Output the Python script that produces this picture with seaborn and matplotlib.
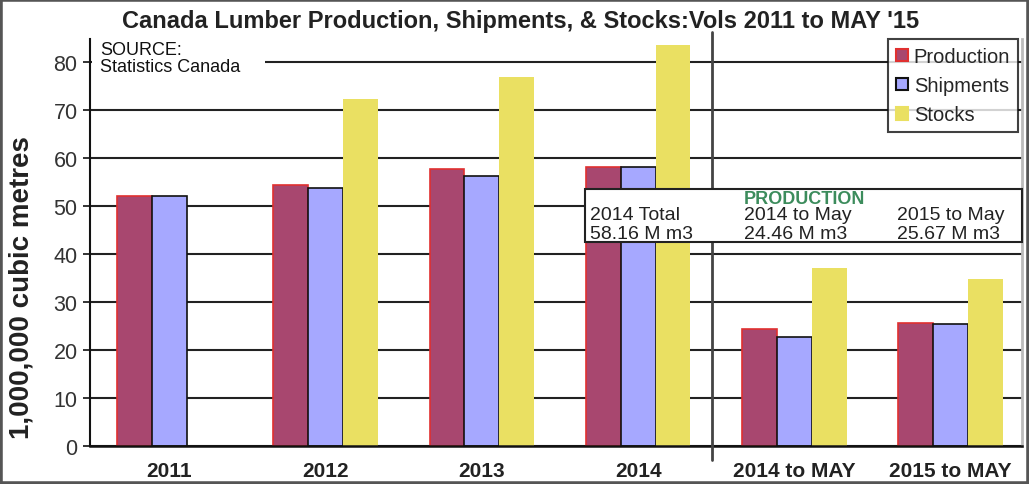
import matplotlib
matplotlib.use("Agg")
import matplotlib.pyplot as plt
import matplotlib.patches as mpatches
import seaborn as sns
import pandas as pd

# values in million cubic metres
categories = ["2011", "2012", "2013", "2014", "2014 to MAY", "2015 to MAY"]
production = [52.1, 54.4, 57.7, 58.16, 24.46, 25.67]
shipments = [52.0, 53.8, 56.3, 58.1, 22.7, 25.5]
stocks = [None, 72.2, 76.9, 83.5, 37.1, 34.8]
series = ["Production", "Shipments", "Stocks"]

fill_colors = ["#A8476F", "#A6A8FF", "#EAE062"]
edge_colors = ["#E03030", "#111111", "none"]

rows = []
for name, vals in zip(series, [production, shipments, stocks]):
    for cat, v in zip(categories, vals):
        if v is not None:
            rows.append({"category": cat, "series": name, "value": v})
df = pd.DataFrame(rows)

sns.set_style("white")
plt.rcParams["font.family"] = ["Liberation Sans", "DejaVu Sans"]

fig = plt.figure(figsize=(10.29, 4.85), dpi=100)
ax = fig.add_axes([0.0875, 0.0784, 0.9057, 0.8391])

sns.barplot(data=df, x="category", y="value", hue="series",
            order=categories, hue_order=series, palette=fill_colors,
            width=0.67, saturation=1, ax=ax, legend=False)

# edges per series
for cont, ec in zip(ax.containers, edge_colors):
    for bar in cont:
        bar.set_edgecolor(ec)
        bar.set_linewidth(1.2 if ec != "none" else 0)

ax.set_xlim(-0.509, 5.458)
ax.set_ylim(0, 84.8)
ax.set_yticks(range(0, 90, 10))
ax.set_axisbelow(True)
ax.yaxis.grid(True, color="#222222", linewidth=1.5)
ax.xaxis.grid(False)

ax.spines["top"].set_visible(False)
ax.spines["left"].set_color("#111111")
ax.spines["left"].set_linewidth(1.5)
ax.spines["bottom"].set_color("#111111")
ax.spines["bottom"].set_linewidth(1.8)
ax.spines["right"].set_color("#BBBBBB")
ax.spines["right"].set_linewidth(2)

ax.tick_params(axis="y", direction="out", length=5, width=1.2, color="#111111",
               left=True, labelsize=15.5, labelcolor="#333333", pad=4)
ax.tick_params(axis="x", length=0, labelsize=15, pad=11)
for lab in ax.get_xticklabels():
    lab.set_fontweight("bold")
    lab.set_color("#222222")
ax.set_xlabel("")
ax.set_ylabel("")

# separator between yearly totals and year-to-date
ax.plot([3.47, 3.47], [-3, 86.3], color="#444444", linewidth=2,
        clip_on=False, zorder=3)

# legend
handles = [mpatches.Patch(facecolor=fc, edgecolor=(ec if ec != "none" else fc), linewidth=1.5)
           for fc, ec in zip(fill_colors, edge_colors)]
leg = ax.legend(handles, series, loc="upper right", bbox_to_anchor=(0.996, 1.0),
                borderaxespad=0, fontsize=14.5, frameon=True, fancybox=False,
                handlelength=0.6, handleheight=0.6, handletextpad=0.3,
                labelspacing=0.5, borderpad=0.4)
leg.get_frame().set_edgecolor("#111111")
leg.get_frame().set_linewidth(1.5)
leg.set_zorder(6)

# source note, white patch hides the gridline behind it
ax.add_patch(mpatches.Rectangle((0.002, 0.925), 0.186, 0.075, transform=ax.transAxes,
                                facecolor="white", edgecolor="none", zorder=2))
ax.text(0.0107, 0.995, "SOURCE:\nStatistics Canada", transform=ax.transAxes,
        ha="left", va="top", fontsize=13, color="#111111", linespacing=1.0, zorder=3)

# production summary box
ax.add_patch(mpatches.Rectangle((0.531, 0.501), 0.469, 0.130, transform=ax.transAxes,
                                facecolor="white", edgecolor="#222222", linewidth=1.5,
                                zorder=5, clip_on=False))
ax.text(0.767, 0.609, "PRODUCTION", transform=ax.transAxes, ha="center", va="center",
        fontsize=13, fontweight="bold", color="#3C8C5C", zorder=6)
box_cols = [(0.5365, "2014 Total", "58.16 M m3"),
            (0.7017, "2014 to May", "24.46 M m3"),
            (0.866, "2015 to May", "25.67 M m3")]
for xpos, head, val in box_cols:
    ax.text(xpos, 0.570, head, transform=ax.transAxes, ha="left", va="center",
            fontsize=14, color="#222222", zorder=6)
    ax.text(xpos, 0.522, val, transform=ax.transAxes, ha="left", va="center",
            fontsize=14, color="#222222", zorder=6)

fig.text(0.506, 0.955, "Canada Lumber Production, Shipments, & Stocks:Vols 2011 to MAY '15",
         ha="center", va="center", fontsize=17, fontweight="bold", color="#222222")
fig.text(0.0205, 0.408, "1,000,000 cubic metres", rotation=90, ha="center", va="center",
         fontsize=20, fontweight="bold", color="#222222")

# outer frame
fig.patches.append(mpatches.Rectangle((0, 0), 1, 1, transform=fig.transFigure,
                                      fill=False, edgecolor="#555555", linewidth=4))

fig.savefig("out.png", dpi=100)
